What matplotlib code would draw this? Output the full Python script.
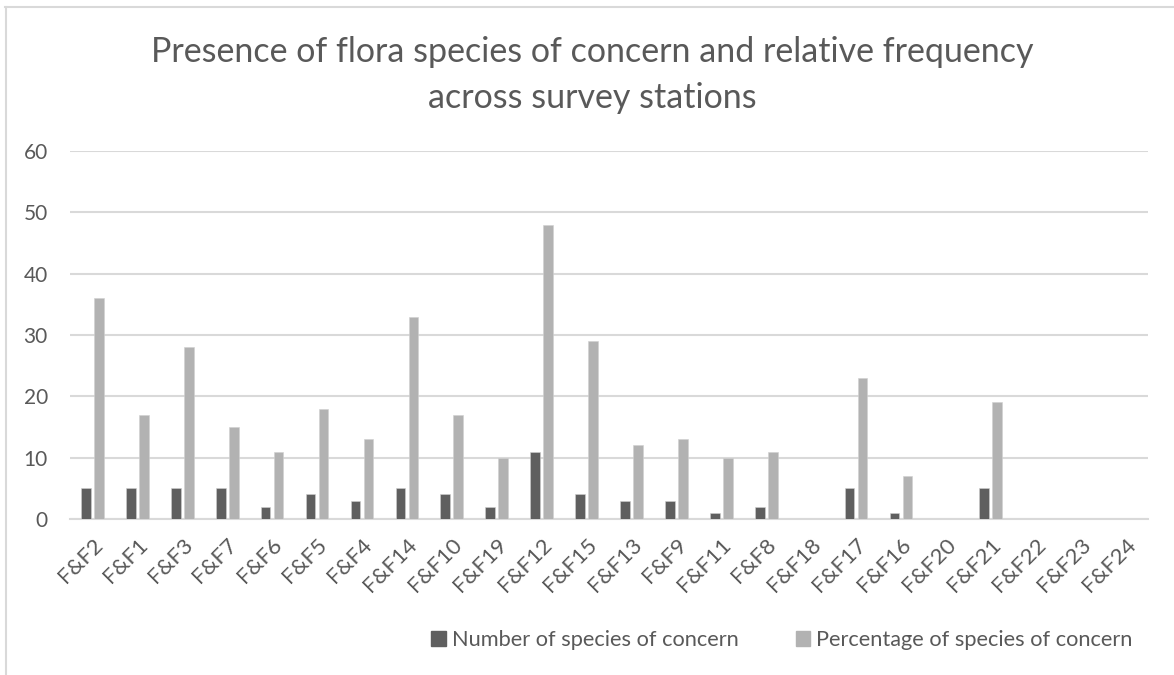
import matplotlib.pyplot as plt
import numpy as np
from matplotlib.lines import Line2D
from matplotlib.patches import Patch

plt.rcParams["font.family"] = ["Lato", "DejaVu Sans"]

stations = ["F&F2", "F&F1", "F&F3", "F&F7", "F&F6", "F&F5", "F&F4", "F&F14",
            "F&F10", "F&F19", "F&F12", "F&F15", "F&F13", "F&F9", "F&F11", "F&F8",
            "F&F18", "F&F17", "F&F16", "F&F20", "F&F21", "F&F22", "F&F23", "F&F24"]
n_species = [5, 5, 5, 5, 2, 4, 3, 5, 4, 2, 11, 4, 3, 3, 1, 2, 0, 5, 1, 0, 5, 0, 0, 0]
pct_species = [36, 17, 28, 15, 11, 18, 13, 33, 17, 10, 48, 29, 12, 13, 10, 11, 0, 23, 7, 0, 19, 0, 0, 0]
y_ticks = [0, 10, 20, 30, 40, 50, 60]
title_lines = ["Presence of flora species of concern and relative frequency",
               "across survey stations"]
legend_labels = ["Number of species of concern", "Percentage of species of concern"]

DARK = "#5f5f5f"
LIGHT = "#b2b2b2"
TEXT = "#595959"
GRID = "#d9d9d9"

W, H = 1174, 675
fig = plt.figure(figsize=(W / 100, H / 100), dpi=100)

# chart-area border (only top and left edges are visible in the reference)
fig.add_artist(Line2D([5 / W, 1], [1 - 6.5 / H] * 2, color=GRID, lw=1.5))
fig.add_artist(Line2D([5.5 / W] * 2, [0, 1 - 6.5 / H], color=GRID, lw=1.5))

ax = fig.add_axes([70 / W, (H - 519) / H, (1148 - 70) / W, (519 - 151) / H])

x = np.arange(len(stations))
bw = 0.215
ax.bar(x - 0.145, n_species, bw, color=DARK, edgecolor="#d0d0d0", linewidth=0.4, zorder=3)
ax.bar(x + 0.145, pct_species, bw, color=LIGHT, edgecolor="#d0d0d0", linewidth=0.4, zorder=3)

ax.set_xlim(-0.5, len(stations) - 0.5)
ax.set_ylim(0, 60)
ax.set_yticks(y_ticks)
ax.grid(axis="y", color=GRID, lw=1.5, zorder=0)
for s in ["top", "right", "left"]:
    ax.spines[s].set_visible(False)
ax.spines["bottom"].set_color(GRID)
ax.spines["bottom"].set_linewidth(1.5)

ax.set_xticks(x)
ax.set_xticklabels(stations, rotation=45, ha="right", rotation_mode="anchor")
ax.tick_params(axis="x", length=0, pad=11, labelsize=16, labelcolor=TEXT)
ax.tick_params(axis="y", length=0, pad=16, labelsize=15, labelcolor=TEXT)

fig.text(592 / W, 1 - 62 / H, title_lines[0], ha="center", va="baseline",
         fontsize=24.5, color=TEXT)
fig.text(592 / W, 1 - 108 / H, title_lines[1], ha="center", va="baseline",
         fontsize=24.5, color=TEXT)

handles = [Patch(color=DARK), Patch(color=LIGHT)]
fig.legend(handles, legend_labels,
           loc="center", bbox_to_anchor=(782 / W, 1 - 640 / H), ncol=2, frameon=False,
           fontsize=15.7, labelcolor=TEXT, handlelength=0.65, handleheight=0.65,
           handletextpad=0.3, columnspacing=2.6)

fig.savefig("out.png", dpi=100)
